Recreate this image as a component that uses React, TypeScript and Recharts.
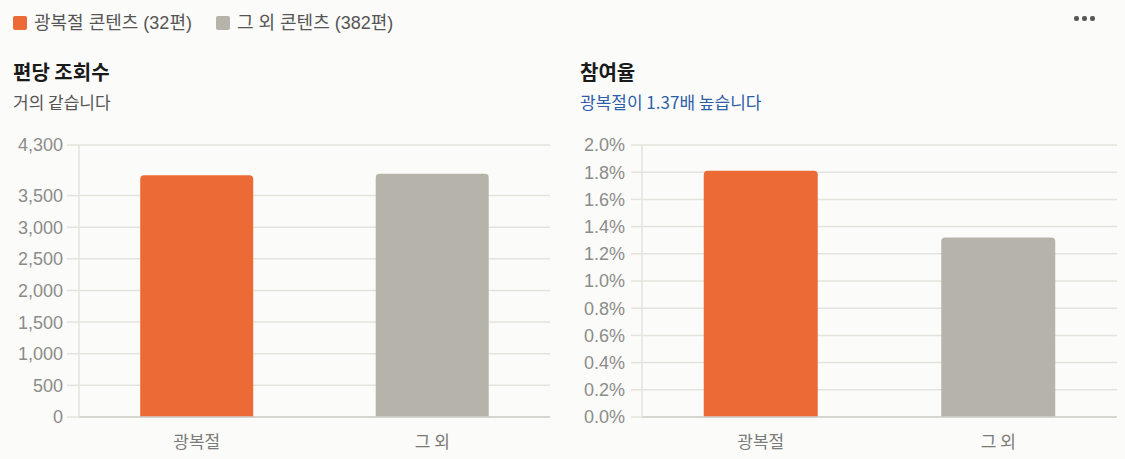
import React from 'react';
import { BarChart, Bar, XAxis, YAxis, CartesianGrid, Cell } from 'recharts';

const categories = ['광복절', '그 외'];
const seriesLabels = ['광복절 콘텐츠 (32편)', '그 외 콘텐츠 (382편)'];
const barColors = ['#EB6A36', '#B6B3AB'];

const viewsPerPost = [3820, 3846];
const engagementRate = [1.81, 1.32];

const viewTicks = [0, 500, 1000, 1500, 2000, 2500, 3000, 3500, 4300];
const rateTicks = [0, 0.2, 0.4, 0.6, 0.8, 1.0, 1.2, 1.4, 1.6, 1.8, 2.0];

const viewsData = categories.map((name, i) => ({ name, value: viewsPerPost[i] }));
const rateData = categories.map((name, i) => ({ name, value: engagementRate[i] }));

const KR = '"Noto Sans CJK KR", "Noto Sans", sans-serif';
const NUM = '"Liberation Sans", Arial, "Noto Sans CJK KR", sans-serif';

const yTick = { fill: '#8C8C8A', fontSize: 18, fontFamily: NUM };
const xTick = { fill: '#7A7A78', fontSize: 17, fontFamily: KR };

const Panel: React.FC<{
  left: number;
  width: number;
  data: { name: string; value: number }[];
  ticks: number[];
  domain: [number, number];
  yWidth: number;
  tickSize: number;
  tickMargin: number;
  rightMargin: number;
  fmt: (v: number) => string;
}> = ({ left, width, data, ticks, domain, yWidth, tickSize, tickMargin, rightMargin, fmt }) => (
  <div style={{ position: 'absolute', left, top: 130 }}>
    <BarChart
      width={width}
      height={329}
      data={data}
      margin={{ top: 15, right: rightMargin, left: 0, bottom: 12 }}
      barCategoryGap="26%"
    >
      <CartesianGrid vertical={false} stroke="#E4E3DD" strokeWidth={1.5} />
      <XAxis
        dataKey="name"
        height={30}
        tickLine={false}
        tickSize={6}
        tickMargin={13}
        axisLine={{ stroke: '#CFCFCB', strokeWidth: 1.5 }}
        tick={xTick}
      />
      <YAxis
        width={yWidth}
        domain={domain}
        ticks={ticks}
        interval={0}
        tickSize={tickSize}
        tickMargin={tickMargin}
        tickLine={{ stroke: '#E4E3DD', strokeWidth: 1.5 }}
        axisLine={{ stroke: '#E4E3DD', strokeWidth: 1.5 }}
        tick={yTick}
        tickFormatter={fmt}
      />
      <Bar dataKey="value" radius={[4, 4, 0, 0]} isAnimationActive={false}>
        {data.map((d, i) => (
          <Cell key={d.name} fill={barColors[i]} />
        ))}
      </Bar>
    </BarChart>
  </div>
);

export default function App() {
  return (
    <div
      style={{
        position: 'absolute',
        left: 0,
        top: 0,
        width: 1125,
        height: 459,
        background: '#FBFBF9',
        overflow: 'hidden',
        fontFamily: KR,
      }}
    >
      {/* legend */}
      <div
        style={{
          position: 'absolute',
          left: 13,
          top: 10,
          display: 'flex',
          alignItems: 'center',
          fontSize: 18,
          color: '#555',
          fontFamily: '"Liberation Sans", "Noto Sans CJK KR", sans-serif',
        }}
      >
        {seriesLabels.map((label, i) => (
          <div key={label} style={{ display: 'flex', alignItems: 'center', marginRight: 24 }}>
            <div style={{ width: 14, height: 14, borderRadius: 2, background: barColors[i], marginRight: 7 }} />
            <span style={{ lineHeight: '26px' }}>{label}</span>
          </div>
        ))}
      </div>

      {/* more menu */}
      {[1076, 1084, 1092].map((x) => (
        <div
          key={x}
          style={{ position: 'absolute', left: x - 2, top: 16, width: 4.5, height: 4.5, borderRadius: '50%', background: '#555' }}
        />
      ))}

      {/* titles */}
      <div style={{ position: 'absolute', left: 13, top: 58, fontSize: 20, fontWeight: 700, color: '#1A1A1A', lineHeight: '28px' }}>
        편당 조회수
      </div>
      <div style={{ position: 'absolute', left: 13, top: 90, fontSize: 17, color: '#555', lineHeight: '24px' }}>
        거의 같습니다
      </div>
      <div style={{ position: 'absolute', left: 580, top: 58, fontSize: 20, fontWeight: 700, color: '#1A1A1A', lineHeight: '28px' }}>
        참여율
      </div>
      <div style={{ position: 'absolute', left: 580, top: 90, fontSize: 17, color: '#2D5EA8', lineHeight: '24px' }}>
        광복절이 1.37배 높습니다
      </div>

      <Panel
        left={0}
        width={560}
        data={viewsData}
        ticks={viewTicks}
        domain={[0, 4300]}
        yWidth={79}
        tickSize={12}
        tickMargin={4}
        rightMargin={10}
        fmt={(v) => v.toLocaleString('en-US')}
      />
      <Panel
        left={560}
        width={565}
        data={rateData}
        ticks={rateTicks}
        domain={[0, 2]}
        yWidth={82}
        tickSize={11}
        tickMargin={6}
        rightMargin={8}
        fmt={(v) => v.toFixed(1) + '%'}
      />
    </div>
  );
}
